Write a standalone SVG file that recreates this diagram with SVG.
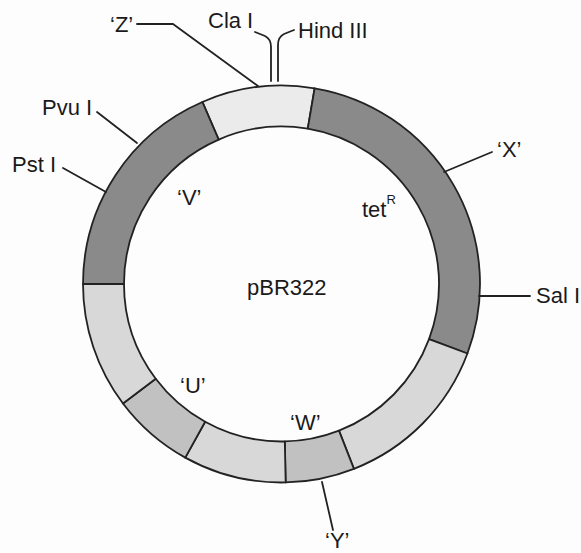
<svg xmlns="http://www.w3.org/2000/svg" width="581" height="553" viewBox="0 0 581 553">
<style>
.seg{stroke:#222;stroke-width:1.8;stroke-linejoin:round}
.dark{fill:#8a8a8a}
.pale{fill:#ebebeb}
.light{fill:#d8d8d8}
.mid{fill:#c1c1c1}
.con{fill:none;stroke:#222;stroke-width:1.8;stroke-linejoin:round;stroke-linecap:round}
text{font-family:"Liberation Sans",Arial,sans-serif;font-size:22px;fill:#1a1a1a}
.sup{font-size:13px}
</style>
<rect width="581" height="553" fill="#fdfdfd"/>
<g id="plasmid">
<g id="seg-Z"><path class="seg pale" d="M202.36,101.96 A198.5,198.5 0 0 1 314.61,88.28 L307.77,128.7 A157.5,157.5 0 0 0 218.7,139.56 Z"/></g>
<g id="seg-tetR"><path class="seg dark" d="M314.61,88.28 A198.5,198.5 0 0 1 467.43,353.51 L429.03,339.16 A157.5,157.5 0 0 0 307.77,128.7 Z"/></g>
<g id="seg-R1"><path class="seg light" d="M467.43,353.51 A198.5,198.5 0 0 1 353.93,468.82 L338.97,430.65 A157.5,157.5 0 0 0 429.03,339.16 Z"/></g>
<g id="seg-W"><path class="seg mid" d="M353.93,468.82 A198.5,198.5 0 0 1 285.66,482.46 L284.8,441.47 A157.5,157.5 0 0 0 338.97,430.65 Z"/></g>
<g id="seg-B"><path class="seg light" d="M285.66,482.46 A198.5,198.5 0 0 1 185.27,457.61 L205.14,421.75 A157.5,157.5 0 0 0 284.8,441.47 Z"/></g>
<g id="seg-U"><path class="seg mid" d="M185.27,457.61 A198.5,198.5 0 0 1 122.98,403.46 L155.72,378.78 A157.5,157.5 0 0 0 205.14,421.75 Z"/></g>
<g id="seg-L"><path class="seg light" d="M122.98,403.46 A198.5,198.5 0 0 1 83,284 L124,284 A157.5,157.5 0 0 0 155.72,378.78 Z"/></g>
<g id="seg-V"><path class="seg dark" d="M83,284 A198.5,198.5 0 0 1 202.36,101.96 L218.7,139.56 A157.5,157.5 0 0 0 124,284 Z"/></g>
</g>
<g id="connectors">
<polyline class="con" points="137,24 173,24 258,86"/>
<path class="con" d="M255,32 L265,36 Q271,39 271,47 L271,81"/>
<path class="con" d="M294,30 L284,34 Q278,37 278,45 L278,81"/>
<line class="con" x1="97" y1="112" x2="137" y2="143"/>
<line class="con" x1="63" y1="168" x2="106" y2="192"/>
<line class="con" x1="444" y1="172" x2="492" y2="152"/>
<line class="con" x1="479" y1="296" x2="530" y2="296"/>
<line class="con" x1="322" y1="482" x2="333" y2="530"/>
</g>
<g id="labels">
<text x="110" y="31.5">‘Z’</text>
<text x="208" y="27.5">Cla I</text>
<text x="298" y="37.5">Hind III</text>
<text x="42" y="115">Pvu I</text>
<text x="12" y="172">Pst I</text>
<text x="497" y="157">‘X’</text>
<text x="536" y="303">Sal I</text>
<text x="362" y="217">tet<tspan class="sup" dy="-13">R</tspan></text>
<text x="177" y="205">‘V’</text>
<text x="247" y="295">pBR322</text>
<text x="180" y="393">‘U’</text>
<text x="290" y="430">‘W’</text>
<text x="325" y="548">‘Y’</text>
</g>
</svg>
